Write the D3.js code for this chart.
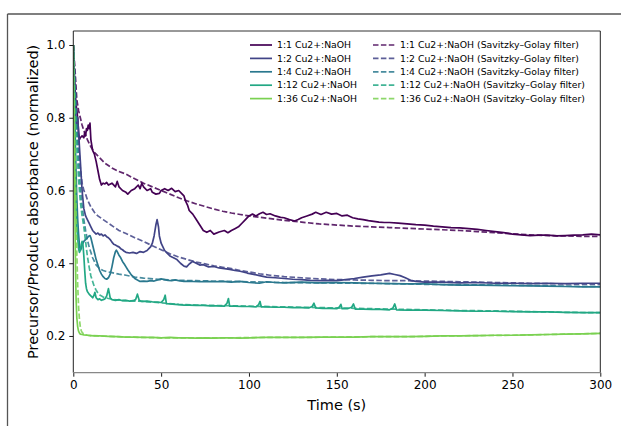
<!DOCTYPE html>
<html>
<head>
<meta charset="utf-8">
<script src="https://cdn.jsdelivr.net/npm/d3@7"></script>
<style>
  html, body { margin: 0; padding: 0; background: #fff; }
  svg { display: block; font-family: "DejaVu Sans", sans-serif; }
</style>
</head>
<body>
<svg id="chart" width="621" height="426"></svg>
<script>
// Normalised precursor/product absorbance over time for five Cu2+:NaOH ratios.
// Each series is a list of [time (s), normalised absorbance].
const ratioLabels = ["1:1", "1:2", "1:4", "1:12", "1:36"];

const raw_1_1 = [[0,1.0],[0.5,0.93],[1,0.88],[1.5,0.84],[2,0.82],[2.5,0.8],[3,0.76],[3.5,0.74],[4,0.745],[5,0.75],[6,0.745],[6.5,0.76],[7,0.75],[7.5,0.77],[8,0.765],[8.5,0.78],[9,0.77],[9.5,0.785],[10,0.74],[10.5,0.725],[11,0.71],[12,0.7],[13,0.68],[14,0.655],[15,0.63],[16,0.615],[17,0.62],[18,0.618],[19,0.622],[20,0.615],[22,0.62],[24,0.61],[25,0.625],[26,0.61],[28,0.6],[30,0.595],[31,0.59],[33,0.6],[35,0.605],[37,0.615],[38,0.605],[39,0.62],[40,0.61],[42,0.6],[44,0.605],[45,0.595],[47,0.59],[49,0.592],[50,0.6],[52,0.605],[54,0.6],[56,0.606],[58,0.597],[60,0.6],[62,0.59],[63,0.585],[64,0.57],[65,0.56],[66,0.545],[68,0.535],[70,0.52],[72,0.505],[74,0.49],[76,0.485],[78,0.49],[80,0.48],[83,0.486],[86,0.49],[88,0.484],[90,0.49],[92,0.495],[94,0.5],[96,0.51],[98,0.52],[100,0.53],[102,0.535],[104,0.53],[106,0.536],[108,0.54],[110,0.534],[112,0.536],[115,0.53],[118,0.526],[120,0.525],[123,0.52],[126,0.516],[128,0.52],[130,0.525],[133,0.53],[136,0.535],[138,0.54],[141,0.534],[144,0.54],[147,0.535],[150,0.537],[153,0.53],[156,0.532],[159,0.525],[162,0.522],[165,0.52],[168,0.517],[171,0.515],[174,0.513],[177,0.512],[180,0.512],[185,0.51],[190,0.508],[195,0.506],[200,0.505],[205,0.502],[210,0.5],[215,0.498],[220,0.497],[225,0.495],[230,0.493],[235,0.49],[240,0.487],[245,0.484],[250,0.48],[255,0.478],[260,0.476],[265,0.477],[270,0.477],[275,0.475],[280,0.476],[285,0.477],[290,0.478],[295,0.48],[300,0.478]];
const smooth_1_1 = [[0,1.0],[1,0.93],[2,0.85],[3,0.82],[4,0.8],[5,0.78],[6,0.765],[8,0.74],[10,0.72],[12,0.705],[15,0.69],[18,0.675],[22,0.662],[26,0.652],[30,0.645],[35,0.632],[40,0.62],[45,0.61],[50,0.6],[55,0.59],[60,0.58],[65,0.571],[70,0.563],[75,0.556],[80,0.549],[85,0.543],[90,0.538],[95,0.534],[100,0.53],[110,0.524],[120,0.518],[130,0.513],[140,0.508],[150,0.505],[160,0.502],[170,0.5],[180,0.498],[190,0.496],[200,0.494],[210,0.492],[220,0.49],[230,0.487],[240,0.484],[250,0.481],[260,0.478],[270,0.476],[280,0.475],[290,0.474],[300,0.474]];

const raw_1_2 = [[0,1.0],[0.5,0.92],[1,0.85],[1.5,0.8],[2,0.78],[2.5,0.8],[3,0.76],[3.5,0.72],[4,0.68],[5,0.6],[6,0.55],[7,0.53],[8,0.52],[9,0.51],[10,0.5],[11,0.49],[12,0.485],[13,0.48],[14,0.483],[15,0.478],[16,0.48],[17,0.475],[18,0.478],[19,0.473],[20,0.47],[21,0.465],[22,0.458],[23,0.452],[24,0.45],[25,0.447],[26,0.445],[27,0.44],[28,0.437],[29,0.433],[30,0.43],[32,0.428],[34,0.43],[36,0.427],[38,0.432],[40,0.43],[42,0.435],[43,0.44],[44,0.445],[45,0.455],[46,0.475],[47,0.505],[47.7,0.52],[48.5,0.5],[49,0.475],[50,0.455],[51,0.445],[52,0.435],[53,0.43],[55,0.42],[57,0.415],[59,0.41],[61,0.4],[63,0.392],[64.5,0.39],[66,0.398],[68,0.405],[70,0.4],[72,0.395],[74,0.396],[77,0.39],[80,0.391],[83,0.387],[86,0.385],[89,0.383],[92,0.38],[95,0.378],[99,0.373],[102,0.37],[106,0.366],[110,0.362],[115,0.36],[120,0.358],[125,0.356],[130,0.355],[135,0.353],[140,0.352],[145,0.353],[150,0.352],[155,0.355],[160,0.358],[165,0.362],[170,0.365],[175,0.368],[180,0.372],[183,0.369],[186,0.366],[189,0.36],[192,0.353],[195,0.35],[200,0.348],[210,0.348],[220,0.346],[230,0.347],[240,0.345],[250,0.345],[260,0.344],[270,0.345],[280,0.344],[290,0.345],[300,0.345]];
const smooth_1_2 = [[0,1.0],[1,0.9],[2,0.8],[3,0.72],[4,0.66],[5,0.62],[6,0.6],[7,0.59],[8,0.575],[10,0.555],[12,0.54],[14,0.53],[17,0.52],[20,0.51],[23,0.5],[26,0.49],[30,0.482],[35,0.47],[40,0.46],[45,0.448],[50,0.437],[55,0.426],[60,0.417],[65,0.41],[70,0.403],[75,0.398],[80,0.393],[85,0.389],[90,0.385],[95,0.38],[100,0.376],[106,0.371],[112,0.367],[120,0.363],[130,0.36],[140,0.357],[150,0.355],[160,0.354],[170,0.353],[180,0.352],[190,0.352],[200,0.351],[220,0.349],[240,0.347],[260,0.345],[280,0.343],[300,0.342]];

const raw_1_4 = [[0,1.0],[0.5,0.88],[1,0.76],[1.5,0.66],[2,0.58],[2.5,0.52],[3,0.48],[3.5,0.45],[4,0.435],[4.5,0.44],[5,0.45],[6,0.46],[7,0.465],[8,0.47],[9,0.475],[9.5,0.476],[10,0.47],[11,0.45],[12,0.43],[13,0.41],[14,0.395],[15,0.38],[16,0.37],[17,0.363],[18,0.358],[19,0.356],[20,0.36],[21,0.37],[22,0.39],[23,0.415],[24,0.432],[24.5,0.436],[25,0.432],[26,0.422],[27,0.415],[28,0.405],[29,0.398],[30,0.39],[31,0.382],[32,0.375],[33,0.368],[34,0.363],[35,0.358],[36,0.355],[38,0.35],[40,0.351],[42,0.35],[44,0.352],[46,0.351],[48,0.354],[50,0.357],[52,0.355],[54,0.353],[56,0.352],[58,0.354],[60,0.352],[63,0.35],[66,0.351],[68,0.35],[72,0.349],[76,0.35],[80,0.349],[85,0.35],[90,0.348],[95,0.35],[100,0.347],[106,0.345],[110,0.349],[115,0.347],[120,0.346],[130,0.348],[140,0.346],[150,0.347],[160,0.346],[170,0.345],[180,0.344],[190,0.343],[200,0.343],[210,0.341],[220,0.34],[230,0.34],[240,0.339],[250,0.338],[260,0.338],[270,0.337],[280,0.336],[290,0.335],[300,0.335]];
const smooth_1_4 = [[0,1.0],[1,0.88],[2,0.77],[3,0.68],[4,0.61],[5,0.56],[6,0.52],[7,0.49],[8,0.465],[9,0.445],[10,0.43],[11,0.415],[12,0.405],[13,0.395],[15,0.385],[17,0.38],[19,0.377],[22,0.374],[26,0.37],[30,0.367],[35,0.362],[40,0.359],[50,0.355],[60,0.353],[70,0.352],[80,0.351],[90,0.35],[100,0.349],[120,0.347],[140,0.346],[160,0.345],[180,0.344],[200,0.342],[220,0.341],[240,0.34],[260,0.339],[280,0.337],[300,0.336]];

const raw_1_12 = [[0,1.0],[0.5,0.82],[1,0.66],[1.5,0.55],[2,0.5],[2.5,0.47],[3,0.44],[3.5,0.43],[4,0.435],[4.5,0.45],[5,0.46],[5.5,0.45],[6,0.42],[6.5,0.38],[7,0.345],[7.5,0.33],[8,0.322],[9,0.315],[10,0.31],[11,0.305],[11.8,0.312],[12.3,0.32],[13,0.305],[14,0.3],[15,0.302],[16,0.298],[17,0.3],[18,0.302],[19,0.31],[20,0.33],[21,0.305],[22,0.3],[24,0.298],[26,0.3],[28,0.297],[30,0.298],[32,0.296],[34,0.297],[35.5,0.3],[36.5,0.315],[37.5,0.298],[39,0.295],[42,0.296],[45,0.294],[48,0.293],[50,0.292],[51.5,0.3],[52.3,0.312],[53,0.289],[55,0.288],[58,0.287],[60,0.286],[63,0.285],[66,0.285],[70,0.284],[74,0.284],[78,0.283],[82,0.283],[86,0.282],[87.5,0.29],[88.3,0.303],[89,0.282],[92,0.282],[96,0.281],[100,0.281],[104,0.28],[105.5,0.286],[106.3,0.295],[107,0.28],[110,0.28],[115,0.279],[120,0.279],[125,0.278],[130,0.278],[134,0.277],[136,0.281],[137,0.29],[138,0.277],[142,0.276],[146,0.276],[150,0.275],[151.5,0.28],[152.3,0.287],[153,0.275],[156,0.275],[158.5,0.279],[159.5,0.288],[160.5,0.274],[165,0.274],[170,0.273],[175,0.273],[180,0.272],[182,0.277],[183,0.288],[184,0.272],[190,0.271],[200,0.271],[210,0.27],[220,0.269],[230,0.268],[240,0.268],[250,0.267],[260,0.266],[270,0.266],[280,0.265],[290,0.264],[300,0.264]];
const smooth_1_12 = [[0,1.0],[1,0.85],[2,0.72],[3,0.63],[4,0.57],[5,0.53],[6,0.5],[7,0.46],[8,0.42],[9,0.39],[10,0.365],[11,0.35],[12,0.335],[13,0.326],[14,0.318],[15,0.313],[17,0.307],[20,0.303],[23,0.3],[27,0.298],[30,0.297],[35,0.296],[40,0.295],[50,0.291],[60,0.287],[70,0.285],[80,0.284],[90,0.283],[100,0.282],[120,0.28],[140,0.278],[160,0.276],[180,0.274],[200,0.272],[220,0.27],[240,0.269],[260,0.267],[280,0.265],[300,0.264]];

const raw_1_36 = [[0,1.0],[0.3,0.85],[0.6,0.68],[1,0.5],[1.3,0.38],[1.6,0.3],[2,0.25],[2.5,0.225],[3,0.213],[3.5,0.208],[4,0.205],[5,0.204],[6,0.203],[8,0.202],[10,0.201],[12,0.2],[15,0.2],[20,0.199],[25,0.198],[30,0.197],[35,0.197],[40,0.196],[45,0.196],[50,0.195],[55,0.196],[60,0.195],[65,0.195],[70,0.194],[75,0.195],[80,0.194],[85,0.195],[90,0.195],[95,0.194],[100,0.195],[110,0.196],[120,0.196],[130,0.196],[140,0.197],[150,0.197],[160,0.197],[170,0.198],[180,0.198],[190,0.198],[200,0.199],[210,0.2],[220,0.2],[230,0.201],[240,0.202],[250,0.202],[260,0.203],[270,0.204],[280,0.205],[290,0.206],[300,0.207]];
const smooth_1_36 = [[0,1.0],[0.5,0.85],[1,0.7],[1.5,0.56],[2,0.43],[2.5,0.34],[3,0.28],[3.5,0.245],[4,0.225],[4.5,0.215],[5,0.21],[6,0.205],[8,0.202],[10,0.201],[15,0.2],[20,0.199],[30,0.197],[40,0.196],[50,0.195],[70,0.195],[90,0.195],[110,0.196],[130,0.196],[150,0.197],[170,0.198],[190,0.198],[210,0.2],[230,0.201],[250,0.202],[270,0.204],[290,0.206],[300,0.207]];

const rawSeries = [raw_1_1, raw_1_2, raw_1_4, raw_1_12, raw_1_36];
const smoothSeries = [smooth_1_1, smooth_1_2, smooth_1_4, smooth_1_12, smooth_1_36];

const xTicks = [0, 50, 100, 150, 200, 250, 300];
const yTicks = [0.2, 0.4, 0.6, 0.8, 1.0];

// viridis samples at 0, 0.2, 0.4, 0.6, 0.8
const colors = [0, 0.2, 0.4, 0.6, 0.8].map(d3.interpolateViridis);

const svg = d3.select("#chart");
const plot = { left: 73.3, right: 600.3, top: 31, bottom: 372.7 };

const x = d3.scaleLinear().domain([0, 300]).range([plot.left, plot.right]);
const y = d3.scaleLinear().domain([0.099, 1.0385]).range([plot.bottom, plot.top]);

// outer figure frame
svg.append("line").attr("x1", 7.5).attr("x2", 621).attr("y1", 14).attr("y2", 14)
  .attr("stroke", "#555").attr("stroke-width", 1.3);
svg.append("line").attr("x1", 7.5).attr("x2", 7.5).attr("y1", 14).attr("y2", 426)
  .attr("stroke", "#555").attr("stroke-width", 1.3);

svg.append("defs").append("clipPath").attr("id", "clip")
  .append("rect").attr("x", plot.left).attr("y", plot.top)
  .attr("width", plot.right - plot.left).attr("height", plot.bottom - plot.top);

const line = d3.line().x(d => x(d[0])).y(d => y(d[1]));
const g = svg.append("g").attr("clip-path", "url(#clip)");

rawSeries.forEach((s, i) => {
  g.append("path").datum(s).attr("d", line)
    .attr("fill", "none").attr("stroke", colors[i]).attr("stroke-width", 1.7)
    .attr("stroke-linejoin", "round");
});
smoothSeries.forEach((s, i) => {
  g.append("path").datum(s).attr("d", line)
    .attr("fill", "none").attr("stroke", colors[i]).attr("stroke-width", 1.7)
    .attr("stroke-dasharray", "5.5,2.4").attr("opacity", 0.85);
});

// axes
const xAxis = d3.axisBottom(x).tickValues(xTicks).tickFormat(d3.format("d")).tickSize(4).tickPadding(4);
const yAxis = d3.axisLeft(y).tickValues(yTicks).tickFormat(d3.format(".1f")).tickSize(4).tickPadding(4);

const gx = svg.append("g").attr("transform", `translate(0,${plot.bottom})`).call(xAxis);
const gy = svg.append("g").attr("transform", `translate(${plot.left},0)`).call(yAxis);
[gx, gy].forEach(a => {
  a.select(".domain").remove();
  a.selectAll("text").attr("font-family", "DejaVu Sans").attr("font-size", 12).attr("fill", "#000");
  a.selectAll("line").attr("stroke", "#000").attr("stroke-width", 0.9);
});

// spines
svg.append("line").attr("x1", plot.left).attr("x2", plot.right).attr("y1", plot.top).attr("y2", plot.top)
  .attr("stroke", "#333").attr("stroke-width", 1);
svg.append("line").attr("x1", plot.left).attr("x2", plot.left).attr("y1", plot.top).attr("y2", plot.bottom)
  .attr("stroke", "#222").attr("stroke-width", 1);
svg.append("line").attr("x1", plot.right).attr("x2", plot.right).attr("y1", plot.top).attr("y2", plot.bottom)
  .attr("stroke", "#222").attr("stroke-width", 1);
svg.append("line").attr("x1", plot.left).attr("x2", plot.right).attr("y1", plot.bottom).attr("y2", plot.bottom)
  .attr("stroke", "#888").attr("stroke-width", 1.2);

// axis titles
svg.append("text").attr("x", (plot.left + plot.right) / 2).attr("y", 410)
  .attr("text-anchor", "middle").attr("font-size", 14.5).text("Time (s)");
svg.append("text").attr("transform", `translate(38,${(plot.top + plot.bottom) / 2}) rotate(-90)`)
  .attr("text-anchor", "middle").attr("font-size", 14.5)
  .text("Precursor/Product absorbance (normalized)");

// legend: raw traces on the left column, filtered traces on the right
const legend = svg.append("g");
const rowY = i => 45 + i * 13.4;
ratioLabels.forEach((r, i) => {
  legend.append("line").attr("x1", 250).attr("x2", 272).attr("y1", rowY(i)).attr("y2", rowY(i))
    .attr("stroke", colors[i]).attr("stroke-width", 1.7);
  legend.append("text").attr("x", 277).attr("y", rowY(i)).attr("dy", "0.35em")
    .attr("font-size", 9.3).text(`${r} Cu2+:NaOH`);
  legend.append("line").attr("x1", 373).attr("x2", 395).attr("y1", rowY(i)).attr("y2", rowY(i))
    .attr("stroke", colors[i]).attr("stroke-width", 1.7).attr("stroke-dasharray", "5.5,2.4").attr("opacity", 0.85);
  legend.append("text").attr("x", 400).attr("y", rowY(i)).attr("dy", "0.35em")
    .attr("font-size", 9.3).text(`${r} Cu2+:NaOH (Savitzky–Golay filter)`);
});
</script>
</body>
</html>
